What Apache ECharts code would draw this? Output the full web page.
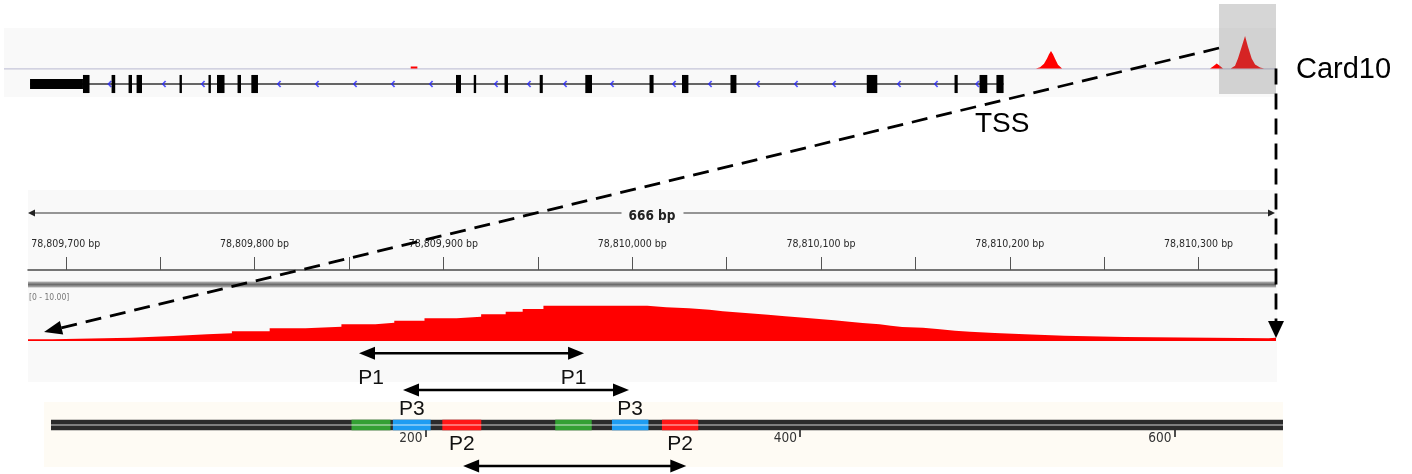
<!DOCTYPE html>
<html>
<head>
<meta charset="utf-8">
<script src="https://cdn.jsdelivr.net/npm/echarts@6/dist/echarts.min.js"></script>
<style>
html,body{margin:0;padding:0;background:#ffffff;}
#c{width:1412px;height:474px;}
</style>
</head>
<body>
<div id="c"></div>
<script>
// ---------------- DATA ----------------
// Overview (gene-level) view: positions in bp from the left edge of the overview window
// null values separate the individual peaks
const overviewSpan = [0, 14755];
const overviewPos = [4718, 4718, 4795, 4795, 4800,
  11971, 12018, 12064, 12099, 12122, 12145, 12168, 12192, 12226, 12273, 12280,
  13552, 13552, 13650, 13650, 13700,
  13990, 14024, 14067, 14106, 14140, 14190,
  14230, 14280, 14314, 14357, 14396, 14430, 14473, 14512, 14570, 14616];
const overviewVal = [0, 0.5, 0.5, 0, null,
  0, 0.3, 1.2, 2.5, 3.5, 4.35, 3.5, 2.4, 0.9, 0, null,
  0, 0.45, 0.45, 0, null,
  0, 0.5, 1.25, 0.6, 0, null,
  0, 0.7, 2.5, 5.4, 8.05, 5.4, 2.5, 1.0, 0.25, 0];
const geneSpan = [302, 11595];
const utrRange = [302, 916];
const exonStart = [916, 1248, 1445, 1538, 2036, 2372, 2471, 2709, 2869, 5243, 5449, 5806, 6214, 6743, 7488, 7865, 8427, 10008, 11026, 11316, 11512];
const exonEnd   = [992, 1290, 1485, 1601, 2057, 2393, 2558, 2749, 2946, 5301, 5475, 5846, 6250, 6821, 7535, 7939, 8496, 10130, 11063, 11406, 11595];
const strandMarks = [1225, 1856, 2308, 3190, 3631, 4072, 4512, 4953, 5707, 6090, 6508, 7053, 7772, 8190, 8746, 9187, 9628, 10382, 10811, 11290];
const highlightRange = [14094, 14755];

// Detail (TSS) view: genomic coordinates
const detailRange = [78809680, 78810341];
const rulerTicks = [78809700, 78809750, 78809800, 78809850, 78809900, 78809950, 78810000, 78810050, 78810100, 78810150, 78810200, 78810250, 78810300];
const rulerLabels = [78809700, 78809800, 78809900, 78810000, 78810100, 78810200, 78810300];
const detailStart = [78809680, 78809693, 78809734, 78809757, 78809775, 78809788, 78809808, 78809827, 78809846, 78809864, 78809874,
  78809890, 78809907, 78809920, 78809933, 78809942, 78809953, 78810008, 78810018, 78810030, 78810041, 78810048, 78810060,
  78810072, 78810081, 78810091, 78810099, 78810107, 78810115, 78810122, 78810131, 78810137, 78810143, 78810154, 78810163,
  78810171, 78810179, 78810192, 78810208, 78810229, 78810261, 78810337];
const detailVal = [0.35, 0.67, 1.0, 1.37, 1.57, 1.98, 2.59, 2.92, 3.41, 3.73, 4.14,
  4.63, 4.96, 5.45, 5.98, 6.53, 7.2, 6.88, 6.67, 6.39, 6.06, 5.71, 5.37,
  5.04, 4.76, 4.49, 4.22, 3.94, 3.67, 3.41, 3.12, 2.86, 2.71, 2.39, 2.10,
  1.90, 1.63, 1.37, 1.08, 0.82, 0.55, 0.67];
const detailScaleLabel = '[0 - 10.00]';
const spanLabel = '666 bp';

// Amplicon map (bp in the map)
const mapRange = [0, 658];
const mapTicks = [200, 400, 600];
const mapSegStart = [160.5, 182.6, 209.0, 269.3, 299.6, 326.3];
const mapSegEnd   = [181.3, 202.8, 229.8, 288.8, 319.1, 345.7];
const mapSegPrimer = ['P1', 'P3', 'P2', 'P1', 'P3', 'P2'];
const primerNames = ['P1', 'P3', 'P2'];
const primerFrom = [164.5, 188.0, 220.1];
const primerTo   = [284.7, 308.7, 339.3];

// ---------------- STYLE / LAYOUT ----------------
const SANS = '"Liberation Sans", Arial, Helvetica, sans-serif';
const NARROW = '"DejaVu Sans Condensed", "Liberation Sans Narrow", sans-serif';
const PRIMER_COLORS = {P1: '#33a033', P3: '#1e9cf2', P2: '#ff1616'};
const PRIMER_ARROW_LEVEL = {P1: 7.17, P3: 3.5, P2: -4.1};
const PRIMER_LABEL_LEVEL = {P1: 4.67, P3: 1.62, P2: -1.9};
const BAND_HALF = 0.53;

const chart = echarts.init(document.getElementById('c'), null, {renderer: 'canvas'});

const fmtBp = v => String(v).replace(/\B(?=(\d{3})+(?!\d))/g, ',') + ' bp';
const G = o => Object.assign({outerBoundsMode: 'none', containLabel: false}, o);

const option = {
  animation: false,
  textStyle: {fontFamily: SANS},
  grid: [
    G({left: 4, top: 28, width: 1272, height: 40.5}),      // 0 overview signal
    G({left: 4, top: 70.5, width: 1272, height: 27}),      // 1 overview gene
    G({left: 28, top: 200, width: 1248, height: 70}),      // 2 ruler
    G({left: 28, top: 292, width: 1248, height: 49}),      // 3 detail coverage
    G({left: 51, top: 345, width: 1232, height: 128}),     // 4 amplicon map
    G({left: 51, top: 400, width: 1232, height: 30})       // 5 amplicon map axis
  ],
  xAxis: [
    {gridIndex: 0, type: 'value', min: overviewSpan[0], max: overviewSpan[1], show: false},
    {gridIndex: 1, type: 'value', min: overviewSpan[0], max: overviewSpan[1], show: false},
    {gridIndex: 2, type: 'value', min: detailRange[0], max: detailRange[1], position: 'bottom',
      axisLine: {show: true, onZero: false, lineStyle: {color: '#4a4a4a', width: 1.5}},
      axisTick: {show: true, inside: true, length: 13, customValues: rulerTicks, lineStyle: {color: '#555', width: 1}},
      axisLabel: {show: true, inside: true, margin: 26, verticalAlign: 'middle', customValues: rulerLabels,
        formatter: fmtBp, fontFamily: NARROW, fontSize: 10.5, color: '#2a2a2a'},
      splitLine: {show: false}},
    {gridIndex: 3, type: 'value', min: detailRange[0], max: detailRange[1], show: false},
    {gridIndex: 4, type: 'value', min: mapRange[0], max: mapRange[1], show: false},
    {gridIndex: 5, type: 'value', min: mapRange[0], max: mapRange[1], position: 'bottom',
      axisLine: {show: false, onZero: false},
      axisTick: {show: true, length: 7, customValues: mapTicks, lineStyle: {color: '#222', width: 1.6}},
      axisLabel: {show: true, customValues: mapTicks, margin: 8, align: 'right', verticalAlign: 'middle',
        padding: [0, 3, 0, 0], fontFamily: NARROW, fontSize: 13.5, color: '#333'},
      splitLine: {show: false}}
  ],
  yAxis: [
    {gridIndex: 0, type: 'value', min: 0, max: 10, show: false},
    {gridIndex: 1, type: 'value', min: -1, max: 1, show: false},
    {gridIndex: 2, type: 'value', min: 0, max: 1, show: false},
    {gridIndex: 3, type: 'value', min: 0, max: 10, show: false},
    {gridIndex: 4, type: 'value', min: -4.8, max: 8, show: false},
    {gridIndex: 5, type: 'value', min: 0, max: 1, show: false}
  ],
  series: [
    // overview signal peaks
    {type: 'line', xAxisIndex: 0, yAxisIndex: 0, silent: true, symbol: 'none', connectNulls: false,
      data: overviewPos.map((p, i) => [p, overviewVal[i] === null ? '-' : overviewVal[i]]),
      lineStyle: {opacity: 0}, areaStyle: {color: '#ff0000', opacity: 1}},
    // gene intron line
    {type: 'line', xAxisIndex: 1, yAxisIndex: 1, silent: true, symbol: 'none', z: 2,
      data: [[geneSpan[0], 0], [geneSpan[1], 0]],
      lineStyle: {color: '#333', width: 1.3}},
    // strand chevrons
    {type: 'scatter', xAxisIndex: 1, yAxisIndex: 1, silent: true, z: 3,
      symbol: 'path://M3.2,0 L0,3.5 L3.2,7 L4.5,6 L2.1,3.5 L4.5,1 Z', symbolSize: [4.5, 7],
      itemStyle: {color: '#2828ff'},
      data: strandMarks.map(p => [p, 0])},
    // UTR + exons
    {type: 'custom', xAxisIndex: 1, yAxisIndex: 1, silent: true, z: 4,
      data: [[utrRange[0], utrRange[1], 0]].concat(exonStart.map((s, i) => [s, exonEnd[i], 1])),
      renderItem(params, api) {
        const half = api.value(2) === 0 ? 0.37 : 0.67;
        const a = api.coord([api.value(0), half]);
        const b = api.coord([api.value(1), -half]);
        const w = Math.max(b[0] - a[0], 2.4);
        return {type: 'rect', shape: {x: a[0], y: a[1], width: w, height: b[1] - a[1]}, style: {fill: '#000'}};
      }},
    // ruler / axis placeholder series
    {type: 'line', xAxisIndex: 2, yAxisIndex: 2, data: [], silent: true},
    {type: 'line', xAxisIndex: 5, yAxisIndex: 5, data: [], silent: true},
    // detail coverage
    {type: 'line', xAxisIndex: 3, yAxisIndex: 3, silent: true, symbol: 'none', step: 'end',
      data: detailStart.map((p, i) => [p, detailVal[i]]).concat([[detailRange[1], detailVal[detailVal.length - 1]]]),
      lineStyle: {opacity: 0}, areaStyle: {color: '#ff0000', opacity: 1}},
    // map backbone
    {type: 'custom', xAxisIndex: 4, yAxisIndex: 4, silent: true, z: 3,
      data: [[mapRange[0], mapRange[1]]],
      renderItem(params, api) {
        const a = api.coord([api.value(0), BAND_HALF]);
        const b = api.coord([api.value(1), -BAND_HALF]);
        return {type: 'rect', shape: {x: a[0], y: a[1], width: b[0] - a[0], height: b[1] - a[1]}, style: {fill: '#2b2b2b'}};
      }},
    // primer segments
    {type: 'custom', xAxisIndex: 4, yAxisIndex: 4, silent: true, z: 4,
      data: mapSegStart.map((s, i) => [s, mapSegEnd[i]]),
      renderItem(params, api) {
        const a = api.coord([api.value(0), BAND_HALF]);
        const b = api.coord([api.value(1), -BAND_HALF]);
        return {type: 'rect', shape: {x: a[0], y: a[1], width: b[0] - a[0], height: b[1] - a[1]},
          style: {fill: PRIMER_COLORS[mapSegPrimer[params.dataIndex]]}};
      }},
    // center light line of the band
    {type: 'line', xAxisIndex: 4, yAxisIndex: 4, silent: true, symbol: 'none', z: 5,
      data: [[mapRange[0], 0], [mapRange[1], 0]],
      lineStyle: {color: 'rgba(255,255,255,0.78)', width: 1.2}},
    // primer labels at segment centres
    {type: 'custom', xAxisIndex: 4, yAxisIndex: 4, silent: true, z: 6,
      data: mapSegStart.map((s, i) => [(s + mapSegEnd[i]) / 2, PRIMER_LABEL_LEVEL[mapSegPrimer[i]]]),
      renderItem(params, api) {
        const p = api.coord([api.value(0), api.value(1)]);
        return {type: 'text', style: {text: mapSegPrimer[params.dataIndex], x: p[0], y: p[1],
          font: '21px ' + SANS, fill: '#111', align: 'center', verticalAlign: 'middle'}};
      }},
    // primer span arrows
    {type: 'custom', xAxisIndex: 4, yAxisIndex: 4, silent: true, z: 6,
      data: primerNames.map((n, i) => [primerFrom[i], primerTo[i], PRIMER_ARROW_LEVEL[n]]),
      renderItem(params, api) {
        const a = api.coord([api.value(0), api.value(2)]);
        const b = api.coord([api.value(1), api.value(2)]);
        const L = 16, H = 6.5;
        return {type: 'group', children: [
          {type: 'line', shape: {x1: a[0] + L - 2, y1: a[1], x2: b[0] - L + 2, y2: b[1]}, style: {stroke: '#000', lineWidth: 2.4}},
          {type: 'polygon', shape: {points: [[a[0], a[1]], [a[0] + L, a[1] - H], [a[0] + L, a[1] + H]]}, style: {fill: '#000'}},
          {type: 'polygon', shape: {points: [[b[0], b[1]], [b[0] - L, b[1] - H], [b[0] - L, b[1] + H]]}, style: {fill: '#000'}}
        ]};
      }}
  ]
};
chart.setOption(option);

// ---------------- ANNOTATIONS (layout) ----------------
function arrowHead(tip, from, len, half) {
  const dx = tip[0] - from[0], dy = tip[1] - from[1];
  const L = Math.hypot(dx, dy), ux = dx / L, uy = dy / L;
  const bx = tip[0] - ux * len, by = tip[1] - uy * len;
  return {pts: [[tip[0], tip[1]], [bx - uy * half, by + ux * half], [bx + uy * half, by - ux * half]], base: [bx + ux * 2, by + uy * 2]};
}
const bx0 = chart.convertToPixel({xAxisIndex: 0}, highlightRange[0]);
const bx1 = chart.convertToPixel({xAxisIndex: 0}, highlightRange[1]);
const diagStart = chart.convertToPixel({gridIndex: 0}, [highlightRange[0], 5.06]);
const diagTip = chart.convertToPixel({gridIndex: 3}, [78809688.5, 1.84]);
const vertStart = chart.convertToPixel({gridIndex: 0}, [highlightRange[1], 0]);
const vertTip = chart.convertToPixel({gridIndex: 3}, [detailRange[1], 0.6]);
const rx0 = chart.convertToPixel({xAxisIndex: 2}, detailRange[0]);
const rx1 = chart.convertToPixel({xAxisIndex: 2}, detailRange[1]) - 1;
const ah1 = arrowHead(diagTip, diagStart, 18, 7);
const ah2 = arrowHead([vertStart[0], vertTip[1]], vertStart, 17, 8);
const RY = 213;

const els = [
  {type: 'rect', shape: {x: 4, y: 28, width: 1272, height: 69}, style: {fill: '#f9f9f9'}, z: -10},
  {type: 'line', shape: {x1: 4, y1: 68.9, x2: 1276, y2: 68.9}, style: {stroke: '#c5c5d8', lineWidth: 1.3}, z: -5},
  {type: 'rect', shape: {x: 28, y: 190, width: 1249, height: 192}, style: {fill: '#f9f9f9'}, z: -10},
  {type: 'rect', shape: {x: 44, y: 402, width: 1239, height: 65}, style: {fill: '#fefbf4'}, z: -10},
  {type: 'rect', shape: {x: 28, y: 281.5, width: 1248, height: 6},
    style: {fill: new echarts.graphic.LinearGradient(0, 0, 0, 1, [
      {offset: 0, color: '#b8b8b8'}, {offset: 0.5, color: '#6c6c6c'}, {offset: 1, color: '#b8b8b8'}])}, z: 1},
  {type: 'text', style: {text: detailScaleLabel, x: 29, y: 297.5, font: '8.5px ' + NARROW, fill: '#777', verticalAlign: 'middle'}, z: 1},
  // ruler
  {type: 'line', shape: {x1: rx0 + 5, y1: RY, x2: 621.5, y2: RY}, style: {stroke: '#333', lineWidth: 1.2}, z: 1},
  {type: 'line', shape: {x1: 683.5, y1: RY, x2: rx1 - 5, y2: RY}, style: {stroke: '#333', lineWidth: 1.2}, z: 1},
  {type: 'polygon', shape: {points: [[rx0, RY], [rx0 + 7, RY - 3.5], [rx0 + 7, RY + 3.5]]}, style: {fill: '#222'}, z: 1},
  {type: 'polygon', shape: {points: [[rx1, RY], [rx1 - 7, RY - 3.5], [rx1 - 7, RY + 3.5]]}, style: {fill: '#222'}, z: 1},
  {type: 'text', style: {text: spanLabel, x: 652, y: RY + 3, font: 'bold 13.5px ' + NARROW, fill: '#222', align: 'center', verticalAlign: 'middle'}, z: 1},
  // highlight box
  {type: 'rect', shape: {x: bx0, y: 4, width: bx1 - bx0, height: 90}, style: {fill: 'rgba(120,120,120,0.3)'}, z: 50},
  // zoom dashed lines
  {type: 'line', shape: {x1: diagStart[0], y1: diagStart[1], x2: ah1.base[0], y2: ah1.base[1]},
    style: {stroke: '#000', lineWidth: 2.8, lineDash: [16, 9]}, z: 60},
  {type: 'polygon', shape: {points: ah1.pts}, style: {fill: '#000'}, z: 60},
  {type: 'line', shape: {x1: vertStart[0], y1: vertStart[1], x2: ah2.base[0], y2: ah2.base[1]},
    style: {stroke: '#000', lineWidth: 2.8, lineDash: [16, 9]}, z: 60},
  {type: 'polygon', shape: {points: ah2.pts}, style: {fill: '#000'}, z: 60},
  // text labels
  {type: 'text', style: {text: 'Card10', x: 1296, y: 70, font: '29px ' + SANS, fill: '#000', verticalAlign: 'middle'}, z: 60},
  {type: 'text', style: {text: 'TSS', x: 975, y: 124, font: '28px ' + SANS, fill: '#000', verticalAlign: 'middle'}, z: 60}
];
chart.setOption({graphic: {elements: els}});
</script>
</body>
</html>
